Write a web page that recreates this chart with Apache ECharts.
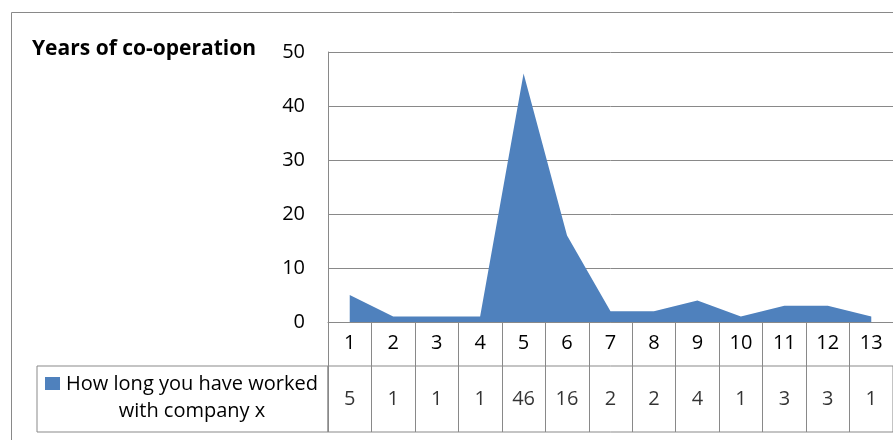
<!DOCTYPE html>
<html>
<head>
<meta charset="utf-8">
<script src="https://cdn.jsdelivr.net/npm/echarts@6/dist/echarts.min.js"></script>
<style>
html,body{margin:0;padding:0;background:#fff;}
#c{width:893px;height:440px;}
</style>
</head>
<body>
<div id="c"></div>
<script>
const categories = ['1','2','3','4','5','6','7','8','9','10','11','12','13'];
const values = [5, 1, 1, 1, 46, 16, 2, 2, 4, 1, 3, 3, 1];
const yTicks = [0, 10, 20, 30, 40, 50];
const seriesName = 'How long you have worked with company x';
const legendLines = ['How long you have worked', 'with company x'];
const titleText = 'Years of co-operation';

const FONT = 'Open Sans';
const GRAY = '#898989';

const chart = echarts.init(document.getElementById('c'));
chart.setOption({
  animation: false,
  backgroundColor: '#fff',
  title: {
    text: titleText,
    left: 32, top: 39, padding: 0,
    textStyle: {fontFamily: FONT, fontWeight: 'bold', fontSize: 21, color: '#000'}
  },
  legend: {
    data: [seriesName],
    left: 45, top: 377, padding: 0,
    icon: 'rect', itemWidth: 15, itemHeight: 13,
    formatter: () => '',
    selectedMode: false,
    textStyle: {fontSize: 1}
  },
  grid: [
    {left: 328, top: 52, width: 573, height: 270, show: false},
    {left: 328, top: 366, width: 573, height: 66, show: true, borderColor: GRAY, borderWidth: 1, backgroundColor: 'transparent'},
    {left: 37, top: 366, width: 291, height: 66, show: true, borderColor: GRAY, borderWidth: 1, backgroundColor: 'transparent'}
  ],
  xAxis: [
    {
      gridIndex: 0, type: 'category', data: categories, boundaryGap: true,
      axisLine: {show: true, lineStyle: {color: GRAY, width: 1}},
      axisTick: {show: true, interval: 0, length: 44, lineStyle: {color: GRAY, width: 1}},
      axisLabel: {show: true, interval: 0, margin: 11, fontFamily: FONT, fontSize: 20, color: '#000'},
      splitLine: {show: false}
    },
    {
      gridIndex: 1, type: 'category', data: categories, boundaryGap: true,
      axisLine: {show: false}, axisTick: {show: false}, axisLabel: {show: false},
      splitLine: {show: true, interval: 0, lineStyle: {color: GRAY, width: 1}}
    },
    {gridIndex: 2, type: 'value', show: false}
  ],
  yAxis: [
    {
      gridIndex: 0, type: 'value', min: 0, max: 50, interval: 10,
      axisLine: {show: true, lineStyle: {color: GRAY, width: 1}},
      axisTick: {show: false},
      axisLabel: {margin: 23, fontFamily: FONT, fontSize: 20, color: '#000', padding: [5, 0, 0, 0],
        formatter: v => yTicks.includes(v) ? String(v) : ''},
      splitLine: {show: true, lineStyle: {color: GRAY, width: 1}}
    },
    {gridIndex: 1, type: 'value', min: 0, max: 1, show: false},
    {gridIndex: 2, type: 'value', show: false}
  ],
  series: [
    {
      name: seriesName, type: 'line', xAxisIndex: 0, yAxisIndex: 0,
      data: values, symbol: 'none',
      lineStyle: {width: 0, color: '#4F81BD'},
      itemStyle: {color: '#4F81BD'},
      areaStyle: {color: '#4F81BD', opacity: 1}
    },
    {
      name: 'table', type: 'scatter', xAxisIndex: 1, yAxisIndex: 1,
      data: values.map((v, i) => [i, 0.5, v]),
      symbolSize: 0, silent: true,
      label: {show: true, position: 'inside', formatter: p => String(p.data[2]),
        fontFamily: FONT, fontSize: 20, color: '#000'}
    }
  ],
  graphic: [
    {type: 'rect', shape: {x: 11.5, y: 12.5, width: 1000, height: 1000}, style: {fill: 'none', stroke: GRAY, lineWidth: 1}, silent: true, z: -10},
    {type: 'text', x: 192, y: 371, style: {text: legendLines.join('\n'), textAlign: 'center', textVerticalAlign: 'top', lineHeight: 27, font: '20px "Open Sans"', fill: '#000'}, silent: true}
  ]
});
</script>
</body>
</html>
